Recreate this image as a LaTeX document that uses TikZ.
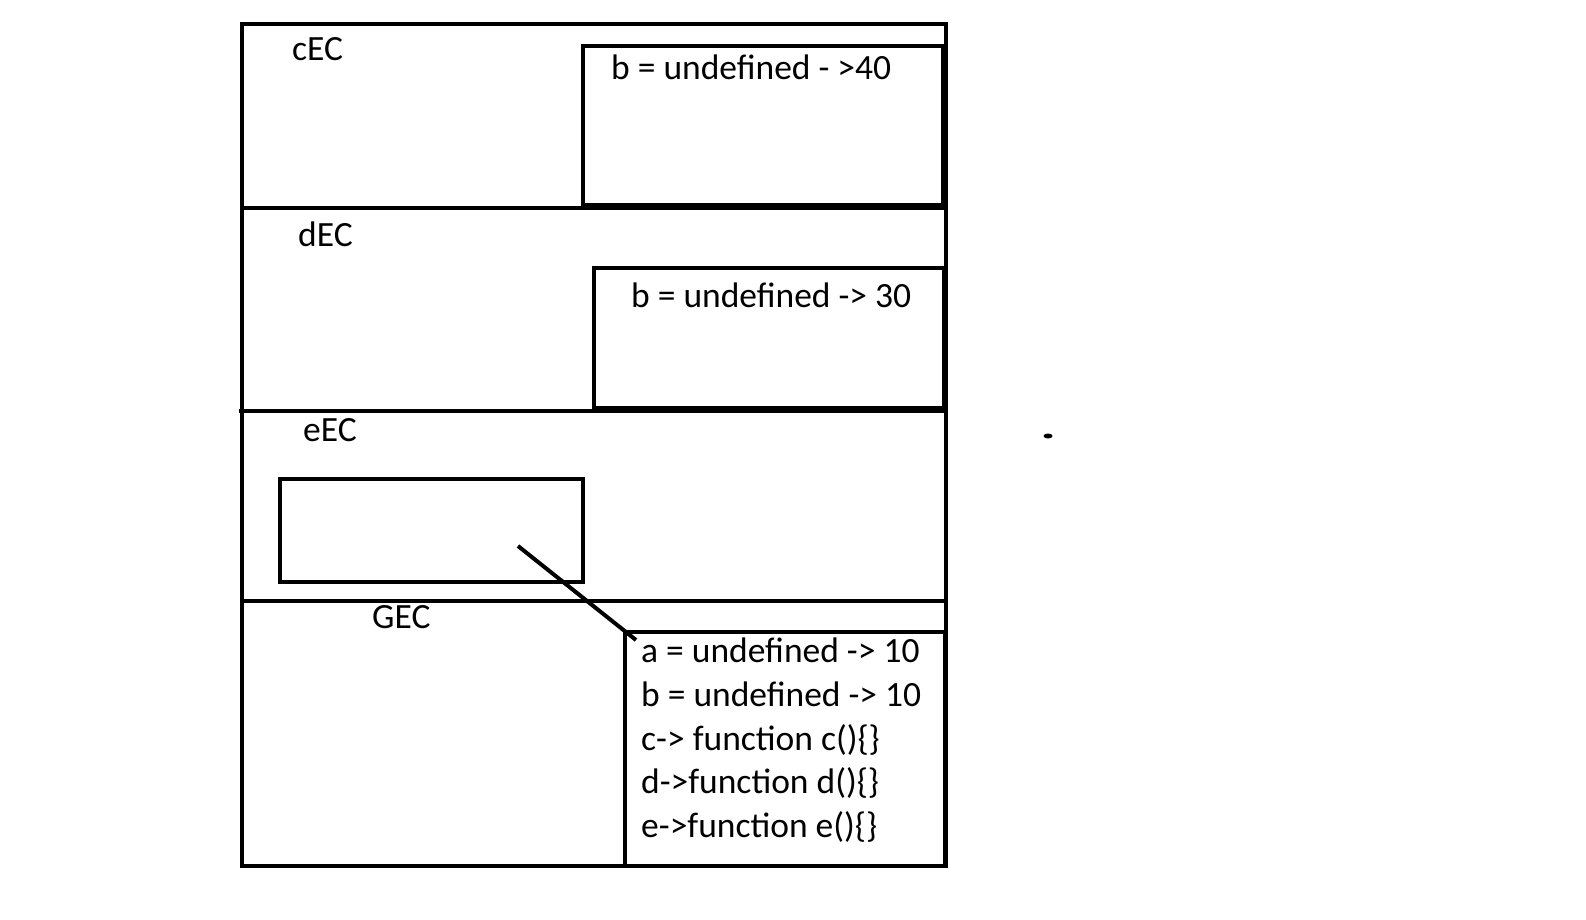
\documentclass[tikz,border=0pt]{standalone}
\usepackage{fontspec}
\setmainfont{Carlito}
\begin{document}
\begin{tikzpicture}[x=1pt,y=-1pt,
  frame/.style={draw=black,line width=4pt,inner sep=0pt,outer sep=0pt,anchor=north west},
  lbl/.style={anchor=base west,inner sep=0pt,font=\fontsize{35.5}{44}\selectfont},
  divider/.style={draw=black,line width=4pt},
  link/.style={draw=black,line width=4pt}]
\useasboundingbox (0,0) rectangle (1586,919);
% outer frame
\node[frame,minimum width=704pt,minimum height=842pt] (outer) at (242,24) {};
% dividers
\coordinate (d1l) at (242,208); \coordinate (d1r) at (946,208);
\coordinate (d2l) at (239,411); \coordinate (d2r) at (948,411);
\coordinate (d3l) at (242,601); \coordinate (d3r) at (946,601);
\draw[divider] (d1l) -- (d1r);
\draw[divider] (d2l) -- (d2r);
\draw[divider] (d3l) -- (d3r);
% inner boxes
\node[frame,minimum width=360pt,minimum height=159pt] (cbox) at (583,46) {};
\node[frame,minimum width=350pt,minimum height=140pt] (dbox) at (594,268) {};
\node[frame,minimum width=303pt,minimum height=103pt] (ebox) at (280,479) {};
\node[frame,minimum width=320pt,minimum height=234pt] (gbox) at (625,632) {};
% labels
\node[lbl] (cec) at (292,60) {cEC};
\node[lbl] (dec) at (298,246) {dEC};
\node[lbl] (eec) at (303,441) {eEC};
\node[lbl] (gec) at (372,628) {GEC};
\node[lbl] (cb) at (611,79) {b = undefined - >40};
\node[lbl] (db) at (631,307) {b = undefined -> 30};
\node[lbl] (ga) at (641,662) {a = undefined -> 10};
\node[lbl] (gb) at (641,706) {b = undefined -> 10};
\node[lbl] (gc) at (641,750) {c-> function c()\{\}};
\node[lbl] (gd) at (641,793) {d->function d()\{\}};
\node[lbl] (ge) at (641,837) {e->function e()\{\}};
% connector
\coordinate (ls) at (518,546);
\coordinate (le) at (636,640);
\draw[link] (ls) -- (le);
% stray dot
\coordinate (dot) at (1048,436);
\fill[black] (dot) ellipse (4.5pt and 2.5pt);
\end{tikzpicture}
\end{document}
